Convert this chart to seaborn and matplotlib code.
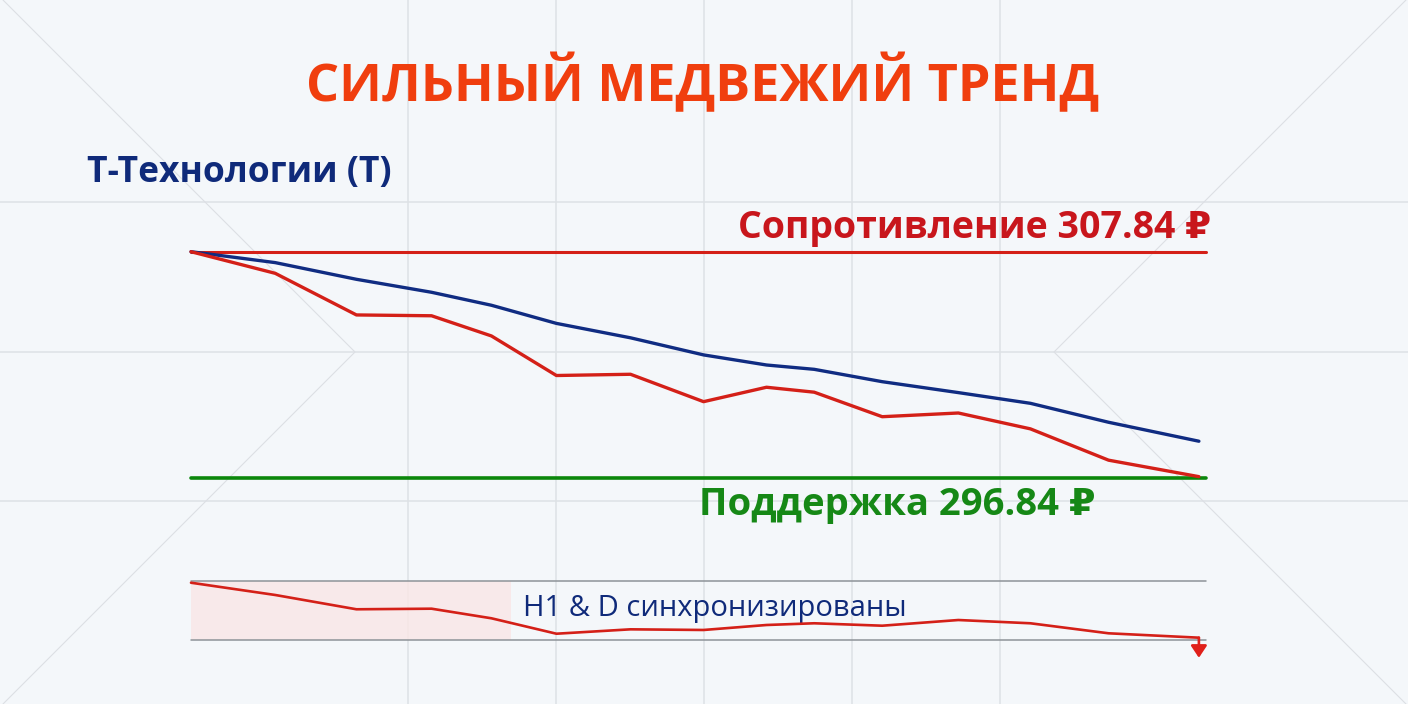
import numpy as np
import pandas as pd
import matplotlib.pyplot as plt
import seaborn as sns

# --- data ---
t = [0, 8.3, 16.3, 23.7, 29.6, 36.0, 43.3, 50.5, 56.7, 61.4, 68.1, 75.6, 82.7, 90.4, 99.3]
price_h1 = [307.84, 306.79, 304.77, 304.73, 303.75, 301.83, 301.89, 300.56,
            301.26, 301.02, 299.83, 300.01, 299.24, 297.72, 296.92]
price_d = [307.84, 307.31, 306.50, 305.87, 305.24, 304.36, 303.66, 302.83,
           302.34, 302.13, 301.53, 301.00, 300.48, 299.56, 298.64]
sync = [96.6, 75.9, 51.8, 52.8, 36.6, 10.6, 18.0, 16.9, 25.3, 28.2, 24.1,
        33.7, 28.2, 11.3, 3.9]
resistance = 307.84
support = 296.84
sync_zone_end = 31.5

title = "СИЛЬНЫЙ МЕДВЕЖИЙ ТРЕНД"
ticker = "Т-Технологии (Т)"
res_label = f"Сопротивление {resistance:.2f} ₽"
sup_label = f"Поддержка {support:.2f} ₽"
sync_label = "H1 & D синхронизированы"

df = pd.DataFrame({"t": t, "h1": price_h1, "d": price_d, "sync": sync})

bg = "#F4F7FA"
red = "#D42018"
navy = "#102C82"
green = "#0B870B"

sns.set_theme(style="white", rc={"axes.facecolor": "none", "figure.facecolor": bg})
plt.rcParams["font.family"] = ["Open Sans", "DejaVu Sans"]

fig = plt.figure(figsize=(14.08, 7.04), dpi=100)

# background: grid + decorative diagonals, in pixel coordinates
back = fig.add_axes([0, 0, 1, 1], zorder=0)
back.set_xlim(0, 1408)
back.set_ylim(704, 0)
back.axis("off")
for x in [408, 556, 704, 852, 1000]:
    back.axvline(x, color="#DDE1E6", lw=1.1)
for y in [202, 352, 501]:
    back.axhline(y, color="#DDE1E6", lw=1.1)
back.plot([3, 355, 3], [0, 352, 704], color="#DCDFE4", lw=0.8)
back.plot([1406, 1054, 1406], [0, 352, 704], color="#DCDFE4", lw=0.8)

# texts
back.text(703, 101, title, ha="center", va="baseline", fontsize=37.5,
          fontweight="bold", color="#F03E0E")
back.text(87, 182, ticker, ha="left", va="baseline", fontsize=25.5,
          fontweight="bold", color="#0F2A7A")
back.text(1211, 238.3, res_label, ha="right", va="baseline", fontsize=27,
          fontweight="bold", color="#C8161C")
back.text(699, 515.3, sup_label, ha="left", va="baseline", fontsize=27.5,
          fontweight="bold", color="#168816")
back.text(523, 615.7, sync_label, ha="left", va="baseline", fontsize=21,
          color="#0F2A7A")

# main price panel
W, H = 1408, 704
ax = fig.add_axes([191 / W, 1 - 478.3 / H, (1206 - 191) / W, (478.3 - 251.7) / H], zorder=2)
ax.set_xlim(0, 100)
ax.set_ylim(support, resistance)
ax.axhline(resistance, color=red, lw=2.2, clip_on=False)
ax.axhline(support, color=green, lw=2.6, clip_on=False)
sns.lineplot(data=df, x="t", y="d", ax=ax, color=navy, lw=2.4)
sns.lineplot(data=df, x="t", y="h1", ax=ax, color=red, lw=2.4)
for ln in ax.lines:
    ln.set_clip_on(False)
ax.axis("off")

# lower sync panel
ax2 = fig.add_axes([191 / W, 1 - 640 / H, (1206 - 191) / W, (640 - 580.7) / H], zorder=2)
ax2.set_xlim(0, 100)
ax2.set_ylim(0, 100)
ax2.axvspan(0, sync_zone_end, color="#FAE6E6", alpha=0.8, lw=0)
ax2.axhline(100, color="#8E9399", lw=1.1, clip_on=False)
ax2.axhline(0, color="#8E9399", lw=1.1, clip_on=False)
sns.lineplot(data=df, x="t", y="sync", ax=ax2, color=red, lw=1.9)
for ln in ax2.lines:
    ln.set_clip_on(False)
ax2.annotate("", xy=(t[-1], -30), xytext=(t[-1], sync[-1]),
             arrowprops=dict(arrowstyle="-|>,head_length=0.6,head_width=0.4",
                             color="#E0201A", lw=1.9, shrinkA=0, shrinkB=0),
             annotation_clip=False)
ax2.axis("off")

fig.savefig("out.png", dpi=100, facecolor=bg)
